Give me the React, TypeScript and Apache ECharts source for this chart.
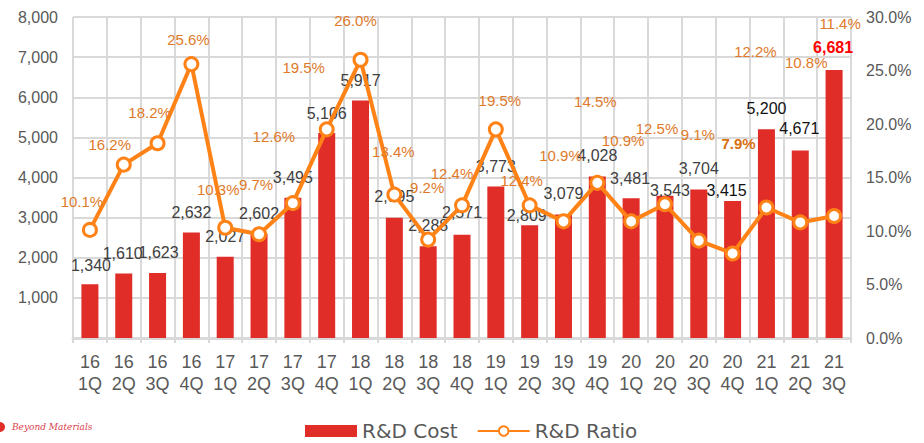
import React, { useEffect, useRef } from "react";
import * as echarts from "echarts";

const categories = [
  "16\n1Q", "16\n2Q", "16\n3Q", "16\n4Q",
  "17\n1Q", "17\n2Q", "17\n3Q", "17\n4Q",
  "18\n1Q", "18\n2Q", "18\n3Q", "18\n4Q",
  "19\n1Q", "19\n2Q", "19\n3Q", "19\n4Q",
  "20\n1Q", "20\n2Q", "20\n3Q", "20\n4Q",
  "21\n1Q", "21\n2Q", "21\n3Q",
];

const rdCost = [
  1340, 1610, 1623, 2632,
  2027, 2602, 3495, 5106,
  5917, 2995, 2288, 2571,
  3773, 2809, 3079, 4028,
  3481, 3543, 3704, 3415,
  5200, 4671, 6681,
];

const rdRatio = [
  10.1, 16.2, 18.2, 25.6,
  10.3, 9.7, 12.6, 19.5,
  26.0, 13.4, 9.2, 12.4,
  19.5, 12.4, 10.9, 14.5,
  10.9, 12.5, 9.1, 7.9,
  12.2, 10.8, 11.4,
];

const leftTicks = { min: 0, max: 8000, interval: 1000 };
const rightTicks = { min: 0, max: 30, interval: 5 };

// label placement (layout only, not data): offset of each label's centre from its mark
const ratioLabelShift: [number, number][] = [
  [-8, -28], [-14, -20], [-8, -31], [-3, -25],
  [-7, -38], [-3, -50], [-19, -67], [-23, -62],
  [-5, -39], [-1, -43], [-1, -52], [-10, -32],
  [4, -29], [-8, -25], [-3, -66], [-2, -81],
  [-8, -81], [-8, -76], [-1, -106], [6, -110],
  [-11, -156], [6, -160], [6, -193],
];
const costLabelShift: [number, number][] = [
  [1, -19], [-1, -20], [1, -20], [0, -20],
  [0, -20], [0, -20], [0, -20], [0, -20],
  [0, -20], [0, -21], [0, -21], [0, -22],
  [0, -20], [-3, -10], [0, -21], [0, -21],
  [-1, -20], [5, -5], [0, -21], [-6, -10],
  [0, -21], [-1, -22], [-1, -22],
];

const FONT = "'DejaVu Sans', sans-serif";
const NUM_FONT = "'Liberation Sans', Arial, sans-serif";
const GRID_COLOR = "#d9d9d9";
const TEXT_GRAY = "#595959";
const BAR_COLOR = "#e02d28";
const LINE_COLOR = "#ff8217";
const RATIO_LABEL = "#e07a2a";

export default function App() {
  const ref = useRef<HTMLDivElement>(null);

  useEffect(() => {
    if (!ref.current) return;
    const chart = echarts.init(ref.current, null, { renderer: "svg" });
    const lastIdx = rdCost.length - 1;
    let minIdx = 0;
    rdRatio.forEach((v, i) => {
      if (v < rdRatio[minIdx]) minIdx = i;
    });

    const barData = rdCost.map((v, i) => {
      const [dx, dy] = costLabelShift[i];
      const label: any = { offset: [dx, dy + 8] };
      if (i === lastIdx) {
        label.color = "#ff0000";
        label.fontWeight = "bold";
      } else if (i >= 19) {
        label.color = "#111111";
      }
      return { value: v, label };
    });

    const lineData = rdRatio.map((v, i) => {
      const [dx, dy] = ratioLabelShift[i];
      const label: any = { offset: [dx, dy] };
      if (i === minIdx) {
        label.fontWeight = "bold";
        label.color = "#d9700f";
      }
      return { value: v, label };
    });

    chart.setOption({
      animation: false,
      textStyle: { fontFamily: FONT },
      grid: { left: 73, right: 73, top: 17, bottom: 105, containLabel: false },
      legend: {
        left: 300,
        top: 416,
        itemGap: 19,
        itemWidth: 52,
        itemHeight: 12,
        textStyle: { fontSize: 20, lineHeight: 20, color: TEXT_GRAY, fontFamily: FONT },
        data: [
          { name: "R&D Cost", icon: "rect" },
          { name: "R&D Ratio" },
        ],
      },
      xAxis: {
        type: "category",
        data: categories,
        boundaryGap: true,
        axisLine: { lineStyle: { color: GRID_COLOR, width: 3 } },
        axisTick: { show: true, length: 5, lineStyle: { color: GRID_COLOR, width: 2 } },
        splitLine: { show: true, interval: 0, lineStyle: { color: GRID_COLOR, width: 2 } },
        axisLabel: {
          interval: 0,
          color: TEXT_GRAY,
          fontSize: 18,
          lineHeight: 22,
          margin: 13,
          fontFamily: NUM_FONT,
        },
      },
      yAxis: [
        {
          type: "value",
          min: leftTicks.min,
          max: leftTicks.max,
          interval: leftTicks.interval,
          axisLine: { show: false },
          axisTick: { show: false },
          splitLine: { show: true, lineStyle: { color: GRID_COLOR, width: 2 } },
          axisLabel: {
            color: TEXT_GRAY,
            fontSize: 16,
            margin: 15,
            fontFamily: NUM_FONT,
            formatter: (v: number) => (v === 0 ? "" : v.toLocaleString("en-US")),
          },
        },
        {
          type: "value",
          min: rightTicks.min,
          max: rightTicks.max,
          interval: rightTicks.interval,
          axisLine: { show: false },
          axisTick: { show: false },
          splitLine: { show: false },
          axisLabel: {
            color: TEXT_GRAY,
            fontSize: 16,
            margin: 15,
            fontFamily: NUM_FONT,
            formatter: (v: number) => v.toFixed(1) + "%",
          },
        },
      ],
      series: [
        {
          name: "R&D Cost",
          type: "bar",
          data: barData,
          barWidth: 17,
          itemStyle: { color: BAR_COLOR },
          z: 2,
          label: {
            show: true,
            position: "top",
            distance: 0,
            color: "#404040",
            fontSize: 16,
            lineHeight: 16,
            fontFamily: NUM_FONT,
            formatter: (p: any) => Number(p.value).toLocaleString("en-US"),
          },
        },
        {
          name: "R&D Ratio",
          type: "line",
          yAxisIndex: 1,
          data: lineData,
          symbol: "circle",
          symbolSize: 13,
          showAllSymbol: true,
          lineStyle: { color: LINE_COLOR, width: 4 },
          itemStyle: { color: "#ffffff", borderColor: LINE_COLOR, borderWidth: 3 },
          z: 3,
          label: {
            show: true,
            position: "inside",
            color: RATIO_LABEL,
            fontSize: 15,
            lineHeight: 15,
            fontFamily: NUM_FONT,
            formatter: (p: any) => Number(p.value).toFixed(1) + "%",
          },
        },
      ],
      graphic: [
        {
          type: "circle",
          shape: { cx: 0, cy: 427, r: 5 },
          style: { fill: "#e02d28" },
        },
        {
          type: "text",
          left: 12,
          top: 422,
          style: {
            text: "Beyond Materials",
            fill: "#d9414a",
            font: "italic 9px 'DejaVu Serif', serif",
          },
        },
      ],
    });
    return () => chart.dispose();
  }, []);

  return (
    <div
      ref={ref}
      style={{ position: "absolute", left: 0, top: 0, width: 924, height: 443 }}
    />
  );
}
